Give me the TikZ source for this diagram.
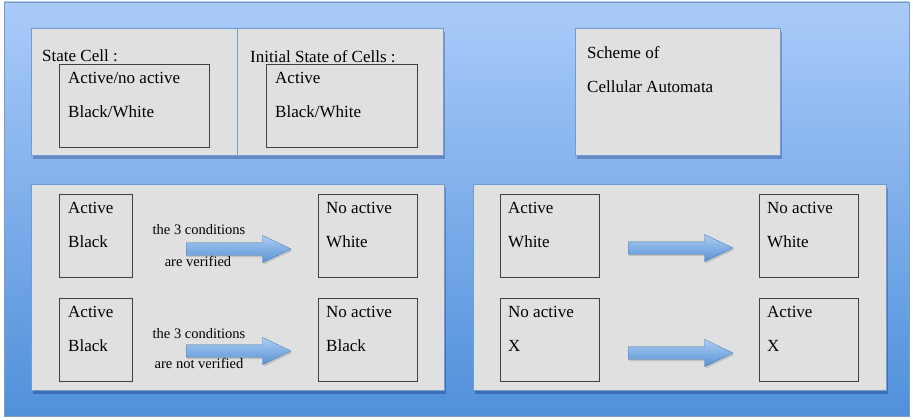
\documentclass[tikz,border=0pt]{standalone}
\usepackage{fontspec}
\setmainfont{Liberation Serif}
\usepackage{tikz}
\usetikzlibrary{shapes,arrows,positioning,shadows}
\definecolor{bgtop}{RGB}{170, 203, 249}
\definecolor{bgbot}{RGB}{80, 144, 219}
\definecolor{frame}{RGB}{124, 155, 192}
\definecolor{panelfill}{RGB}{224, 224, 224}
\definecolor{paneledge}{RGB}{110, 157, 212}
\definecolor{arrtop}{RGB}{172, 206, 243}
\definecolor{arrbot}{RGB}{88, 145, 213}
\tikzstyle{panel} = [rectangle, anchor=north west, draw=paneledge, line width=1.2pt, fill=panelfill, minimum height=127pt, drop shadow={shadow xshift=1pt, shadow yshift=-3pt, opacity=.25, fill=black!70!blue}]
\tikzstyle{cell} = [rectangle, anchor=north west, draw=black!75, line width=0.8pt, minimum height=83pt]
\tikzstyle{txt} = [inner sep=0pt, align=left, font=\fontsize{17}{34.5}\selectfont]
\tikzstyle{note} = [inner sep=0pt, font=\fontsize{14.5}{17}\selectfont]
\tikzstyle{flow} = [single arrow, anchor=tail, draw=arrbot!80!black, line width=0.3pt, top color=arrtop, bottom color=arrbot, minimum height=105pt, inner xsep=0pt, inner ysep=6pt, single arrow head extend=7.5pt, single arrow tip angle=51, drop shadow={shadow xshift=1pt, shadow yshift=-2pt, opacity=.3}]

\begin{document}
\begin{tikzpicture}[x=1pt, y=-1pt]
\useasboundingbox (0,0) rectangle (913,420);

% background =============================
\draw[frame, line width=0.8pt, top color=bgtop, bottom color=bgbot] (4,2) rectangle (909,416);

% top panels
\node[panel, minimum width=206pt] (state) at (31,28) {};
\node[panel, minimum width=206pt] (init) at (237,28) {};
\node[panel, minimum width=205pt] (scheme) at (575,28) {};

\node[txt, below right=22pt and 11pt of state.north west] (statet) {State Cell :};
\node[txt, below right=22pt and 13pt of init.north west] (initt) {Initial State of Cells :};
\node[txt, below right=18pt and 12pt of scheme.north west] (schemet) {Scheme of\\Cellular Automata};

\node[cell, minimum width=150pt] (sc) at (59,64) {};
\node[cell, minimum width=151pt] (ic) at (266,64) {};
\node[txt, below right=8pt and 9pt of sc.north west] (sct) {Active/no active\\Black/White};
\node[txt, below right=8pt and 9pt of ic.north west] (ict) {Active\\Black/White};

% bottom panels
\node[panel, minimum width=413pt, minimum height=206pt] (rulel) at (31,184) {};
\node[panel, minimum width=413pt, minimum height=206pt] (ruler) at (473,184) {};

% left rules
\node[cell, minimum width=73pt] (a1) at (59,194) {};
\node[cell, minimum width=99pt] (b1) at (318,194) {};
\node[cell, minimum width=73pt] (a2) at (59,298) {};
\node[cell, minimum width=99pt] (b2) at (318,298) {};
\node[txt, below right=8pt and 9pt of a1.north west] (a1t) {Active\\Black};
\node[txt, below right=8pt and 8pt of b1.north west] (b1t) {No active\\White};
\node[txt, below right=8pt and 9pt of a2.north west] (a2t) {Active\\Black};
\node[txt, below right=8pt and 8pt of b2.north west] (b2t) {No active\\Black};

\node[flow] (f1) at (186,249) {};
\node[flow] (f2) at (186,351) {};
\node[note] (c1) at (199,230) {the 3 conditions};
\node[note] (v1) at (198,261) {are verified};
\node[note] (c2) at (199,334) {the 3 conditions};
\node[note] (v2) at (199,363) {are not verified};

% right rules
\node[cell, minimum width=99pt] (p1) at (500,194) {};
\node[cell, minimum width=99pt] (q1) at (759,194) {};
\node[cell, minimum width=99pt] (p2) at (500,298) {};
\node[cell, minimum width=99pt] (q2) at (759,298) {};
\node[txt, below right=8pt and 8pt of p1.north west] (p1t) {Active\\White};
\node[txt, below right=8pt and 8pt of q1.north west] (q1t) {No active\\White};
\node[txt, below right=8pt and 8pt of p2.north west] (p2t) {No active\\X};
\node[txt, below right=8pt and 8pt of q2.north west] (q2t) {Active\\X};

\node[flow] (f3) at (628,248) {};
\node[flow] (f4) at (628,353) {};

\end{tikzpicture}
\end{document}
